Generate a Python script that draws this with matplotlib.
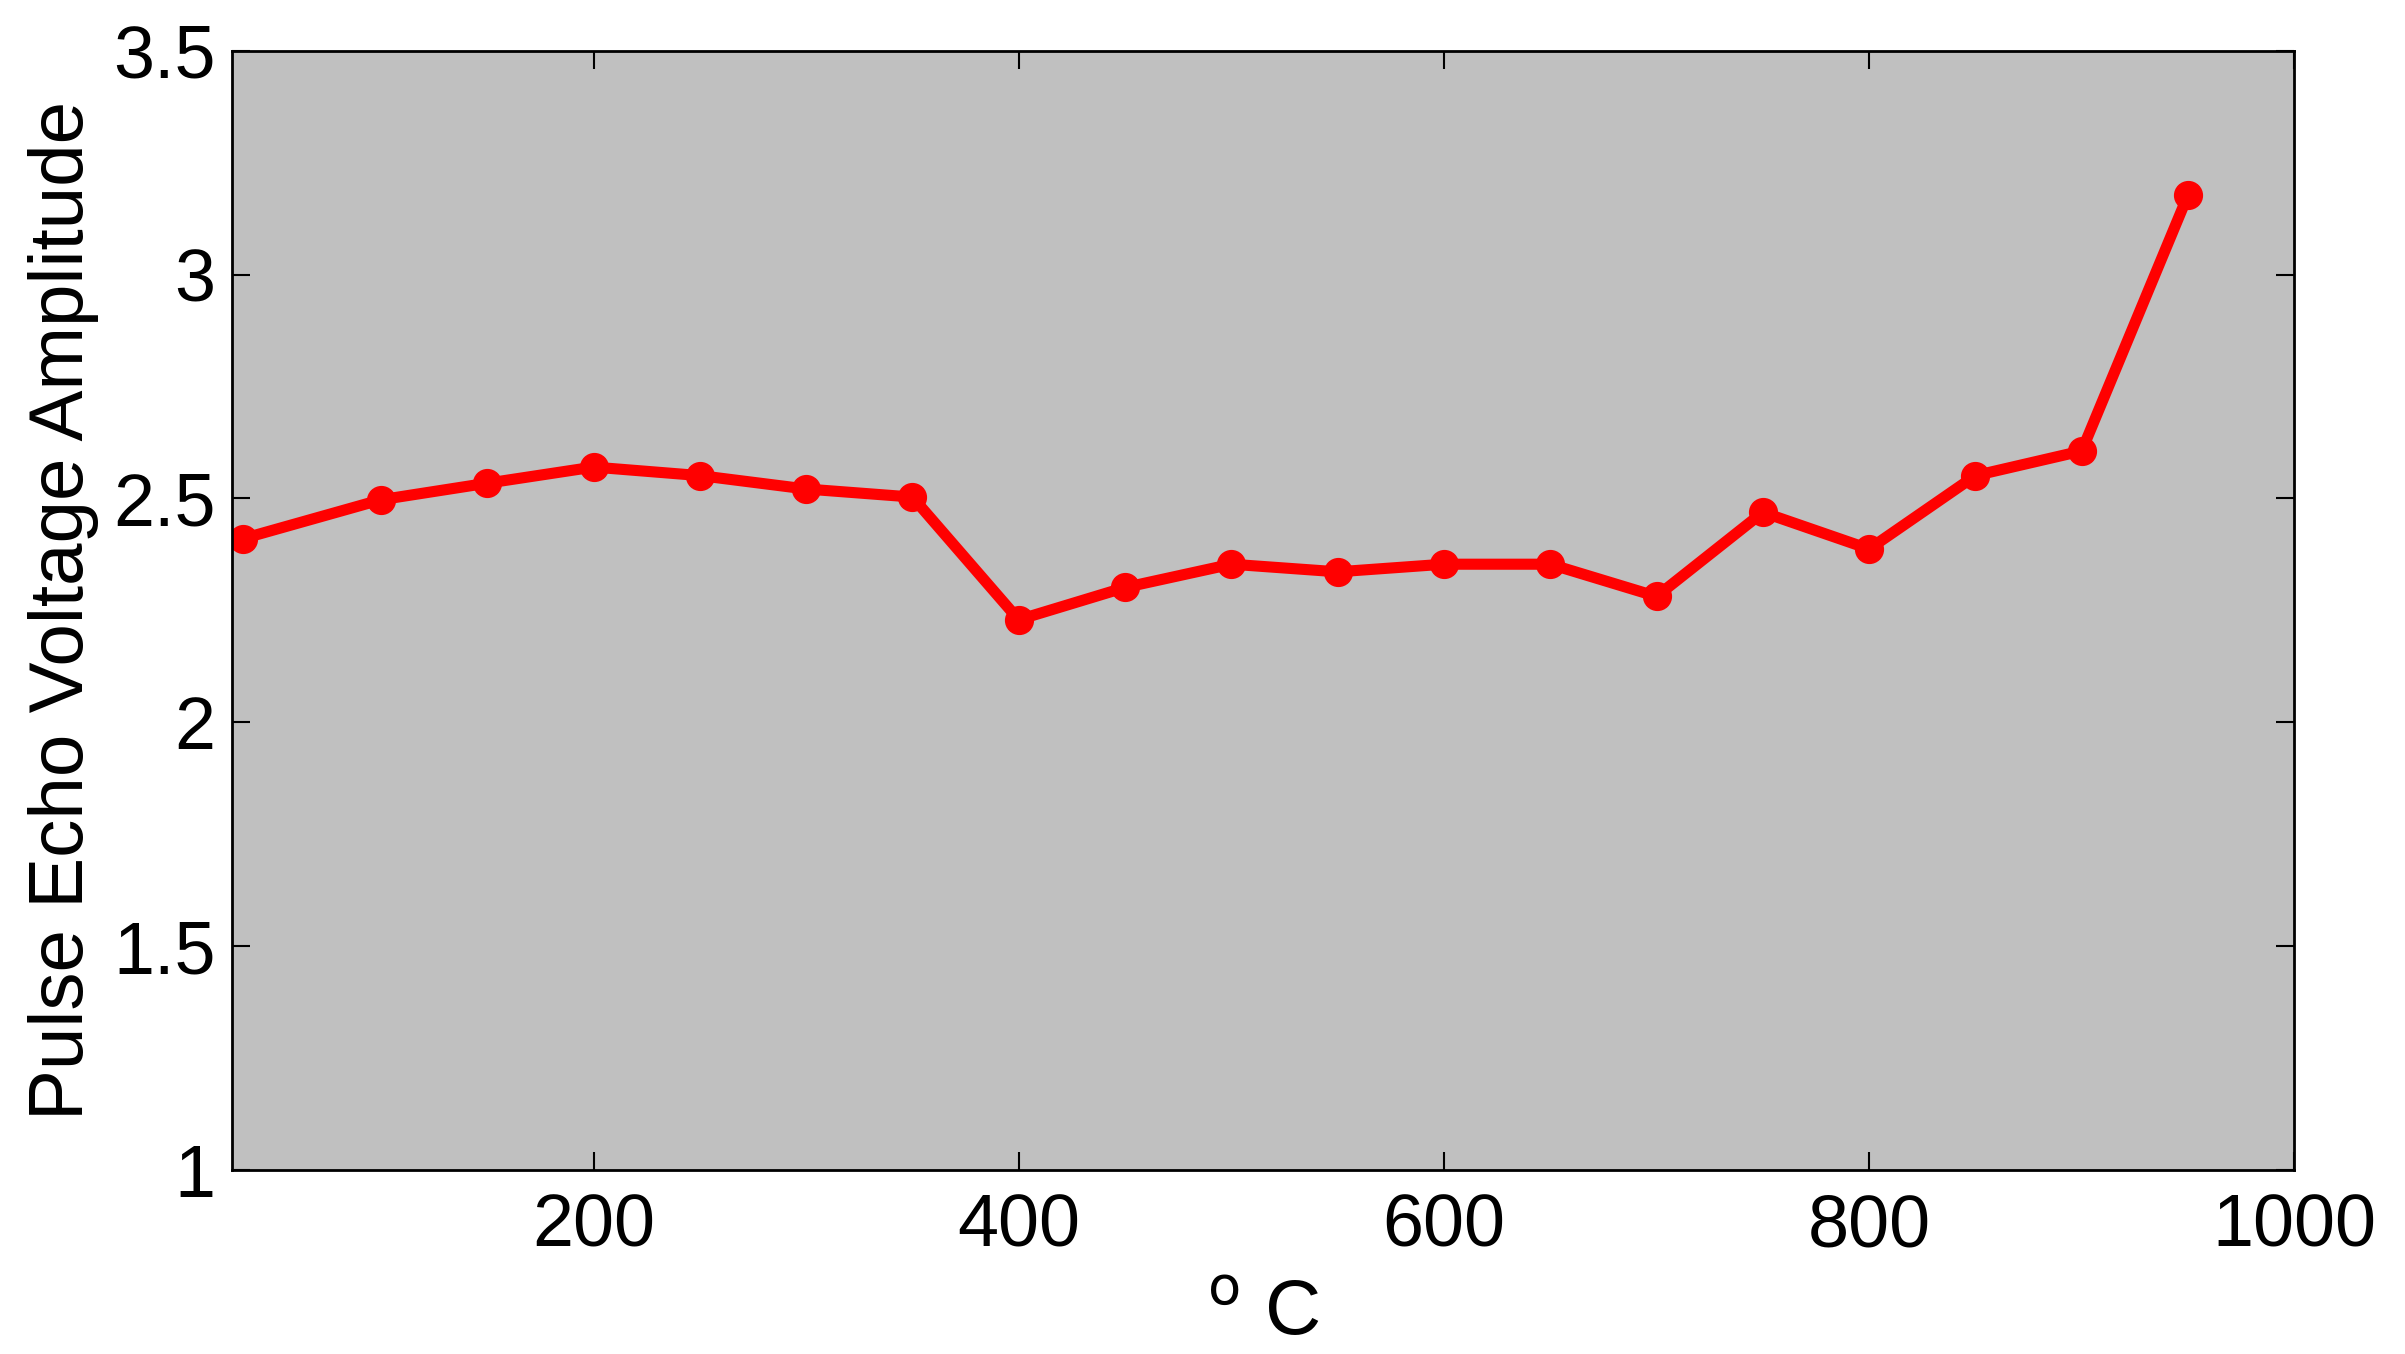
import matplotlib
matplotlib.use("Agg")
import matplotlib.pyplot as plt

temps = [35, 100, 150, 200, 250, 300, 350, 400, 450, 500, 550, 600, 650, 700, 750, 800, 850, 900, 950]
amps = [2.41, 2.497, 2.534, 2.570, 2.551, 2.521, 2.503, 2.229, 2.301, 2.353, 2.336, 2.353, 2.353,
        2.281, 2.469, 2.387, 2.551, 2.606, 3.178]
xticks = [200, 400, 600, 800, 1000]
yticks = [1, 1.5, 2, 2.5, 3, 3.5]
ytick_labels = ["1", "1.5", "2", "2.5", "3", "3.5"]

plt.rcParams['font.family'] = ['Liberation Sans', 'DejaVu Sans']
fig = plt.figure(figsize=(24.05, 13.54), dpi=100)
ax = fig.add_axes([0.0965, 0.136, 0.8575, 0.8265])
ax.set_facecolor('#c0c0c0')
ax.plot(temps, amps, color='#ff0000', linewidth=8, marker='o', markersize=20)
ax.set_xlim(30, 1000)
ax.set_ylim(1, 3.5)
ax.set_xticks(xticks)
ax.set_yticks(yticks)
ax.set_yticklabels(ytick_labels)
ax.tick_params(direction='in', length=13, width=1.5, labelsize=53, top=True, right=True)
ax.tick_params(axis='x', pad=16)
ax.tick_params(axis='y', pad=12)
for s in ax.spines.values():
    s.set_linewidth(2)
ax.set_xlabel(r'$^{\mathrm{o}}$ C', fontsize=56, labelpad=12)
ax.set_ylabel('Pulse Echo Voltage Amplitude', fontsize=55, labelpad=10)
fig.savefig('out.png', dpi=100, facecolor='white')
